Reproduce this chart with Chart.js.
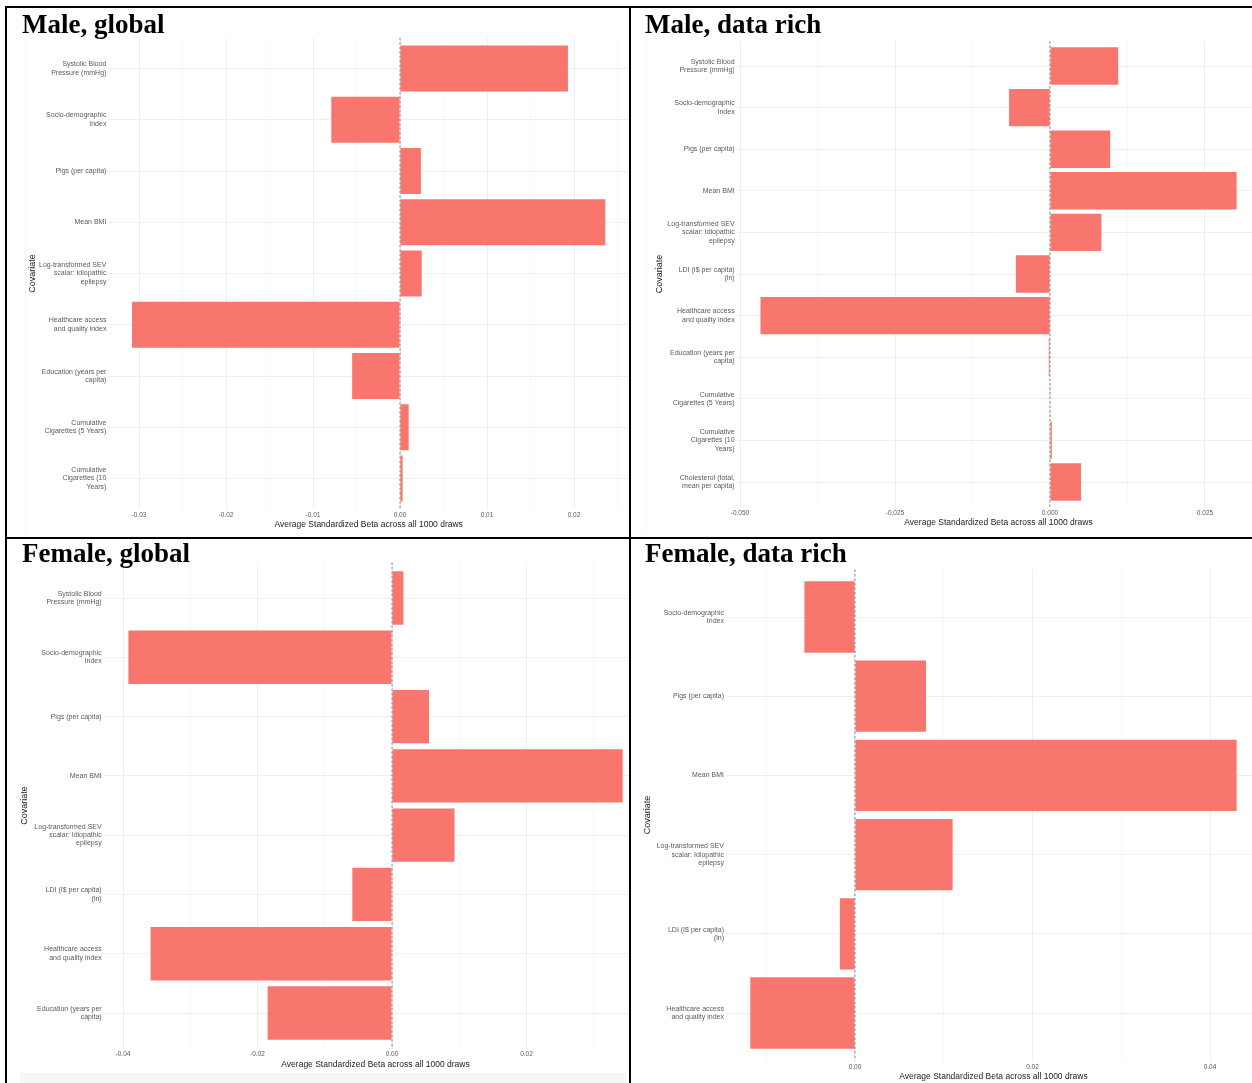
<!DOCTYPE html>
<html>
<head>
<meta charset="utf-8">
<script src="https://cdn.jsdelivr.net/npm/chart.js@4.4.1/dist/chart.umd.min.js"></script>
<style>
  html, body { margin: 0; padding: 0; background: #fff; }
  #sheet { position: relative; width: 1252px; height: 1083px; overflow: hidden; background: #fff; }
  .rule { position: absolute; background: #000; z-index: 3; }
  .clip { position: absolute; overflow: hidden; }
  .clip canvas { position: absolute; left: 0; top: 0; }
  .panel-title { position: absolute; font: bold 27px 'Liberation Serif', 'Times New Roman', serif; line-height: 27px; color: #000; white-space: nowrap; z-index: 2; }
  .faint { position: absolute; background: #f2f2f2; }
</style>
</head>
<body>
<div id="sheet"></div>
<script>
// === Data ===
const SBP = ['Systolic Blood', 'Pressure (mmHg)'];
const SDI = ['Socio-demographic', 'Index'];
const PIGS = 'Pigs (per capita)';
const BMI = 'Mean BMI';
const SEV = ['Log-transformed SEV', 'scalar: Idiopathic', 'epilepsy'];
const LDI = ['LDI (I$ per capita)', '(ln)'];
const HAQ = ['Healthcare access', 'and quality index'];
const EDU = ['Education (years per', 'capita)'];
const CIG5 = ['Cumulative', 'Cigarettes (5 Years)'];
const CIG10 = ['Cumulative', 'Cigarettes (10', 'Years)'];
const CHOL = ['Cholesterol (total,', 'mean per capita)'];

const maleGlobalCovariates = [SBP, SDI, PIGS, BMI, SEV, HAQ, EDU, CIG5, CIG10];
const maleGlobalBeta = [0.0193, -0.0079, 0.0024, 0.0236, 0.0025, -0.0308, -0.0055, 0.0010, 0.0003];

const maleRichCovariates = [SBP, SDI, PIGS, BMI, SEV, LDI, HAQ, EDU, CIG5, CIG10, CHOL];
const maleRichBeta = [0.0110, -0.0066, 0.0097, 0.0301, 0.0083, -0.0055, -0.0467, -0.0002, 0.0001, 0.0003, 0.0050];

const femaleGlobalCovariates = [SBP, SDI, PIGS, BMI, SEV, LDI, HAQ, EDU];
const femaleGlobalBeta = [0.0017, -0.0392, 0.0055, 0.0343, 0.0093, -0.0059, -0.0359, -0.0185];

const femaleRichCovariates = [SDI, PIGS, BMI, SEV, LDI, HAQ];
const femaleRichBeta = [-0.0057, 0.0080, 0.0430, 0.0110, -0.0017, -0.0118];

const X_TITLE = 'Average Standardized Beta across all 1000 draws';
const Y_TITLE = 'Covariate';
const BAR_COLOR = '#F8766D';
const GRID_COLOR = '#eeeeee';
const FONT = "'Liberation Sans', Arial, sans-serif";

// === Panel layout (page pixels) ===
const panels = [
  { title: 'Male, global', titleX: 22, baseline: 32,
    clip: { x: 8, y: 9, w: 621, h: 528 },
    labels: maleGlobalCovariates, values: maleGlobalBeta,
    zeroX: 400, ppu: 8700, firstY: 68.5, lastY: 478.5,
    minor: 0.005, major: 0.01, decimals: 2,
    covX: 32.5, tickPad: 2.4, xTitleY: 525 },
  { title: 'Male, data rich', titleX: 645, baseline: 32,
    clip: { x: 631, y: 9, w: 621, h: 528 },
    labels: maleRichCovariates, values: maleRichBeta,
    zeroX: 1050, ppu: 6200, firstY: 66, lastY: 482,
    minor: 0.0125, major: 0.025, decimals: 3,
    covX: 660, tickPad: 2.4, xTitleY: 523 },
  { title: 'Female, global', titleX: 22, baseline: 561,
    clip: { x: 7, y: 539, w: 622, h: 544 },
    labels: femaleGlobalCovariates, values: femaleGlobalBeta,
    zeroX: 392, ppu: 6725, firstY: 598, lastY: 1013,
    minor: 0.01, major: 0.02, decimals: 2,
    covX: 25, tickPad: 2, xTitleY: 1065 },
  { title: 'Female, data rich', titleX: 645, baseline: 561,
    clip: { x: 631, y: 539, w: 621, h: 544 },
    labels: femaleRichCovariates, values: femaleRichBeta,
    zeroX: 855, ppu: 8875, firstY: 617, lastY: 1013,
    minor: 0.01, major: 0.02, decimals: 2,
    covX: 648, tickPad: 2.6, xTitleY: 1076.5 }
];

// dashed reference line at beta = 0
const zeroLine = {
  id: 'zeroLine',
  afterDatasetsDraw(chart) {
    const { ctx, chartArea, scales } = chart;
    const x = scales.x.getPixelForValue(0);
    ctx.save();
    ctx.strokeStyle = '#707070';
    ctx.lineWidth = 0.8;
    ctx.setLineDash([2.5, 2]);
    ctx.beginPath();
    ctx.moveTo(x, chartArea.top);
    ctx.lineTo(x, chartArea.bottom);
    ctx.stroke();
    ctx.restore();
  }
};

// ggplot-style 5% expansion of the continuous axis
function expandRange(values) {
  const lo = Math.min(0, ...values);
  const hi = Math.max(0, ...values);
  const e = (hi - lo) * 0.05;
  return [lo - e, hi + e];
}

function isMajor(v, step) {
  const r = v / step;
  return Math.abs(r - Math.round(r)) < 1e-6;
}

const sheet = document.getElementById('sheet');

// === Frame lines & scraps of the original screenshots ===
sheet.innerHTML = `
  <div class="rule" style="left:5px;top:6px;width:1247px;height:2px;"></div>
  <div class="rule" style="left:5px;top:6px;width:2px;height:1077px;"></div>
  <div class="rule" style="left:629px;top:6px;width:2px;height:1077px;"></div>
  <div class="rule" style="left:5px;top:537px;width:1247px;height:2px;"></div>
  <div class="faint" style="left:25px;top:38px;width:1px;height:495px;"></div>
  <div class="faint" style="left:646px;top:40px;width:1px;height:490px;"></div>
  <div class="faint" style="left:20px;top:1073px;width:606px;height:10px;background:#f6f6f6;"></div>
`;

panels.forEach(p => {
  const n = p.labels.length;
  const [xMin, xMax] = expandRange(p.values);
  const left = p.zeroX + xMin * p.ppu;
  const right = p.zeroX + xMax * p.ppu;
  const band = (p.lastY - p.firstY) / (n - 1);
  const top = p.firstY - 0.6 * band;
  const bottom = p.lastY + 0.6 * band;

  const cx = p.clip.x, cy = p.clip.y;
  const cw = Math.ceil(right) + 2 - cx;
  const ch = p.clip.h;

  const wrap = document.createElement('div');
  wrap.className = 'clip';
  wrap.style.cssText = `left:${cx}px;top:${cy}px;width:${p.clip.w}px;height:${ch}px;`;
  const canvas = document.createElement('canvas');
  canvas.width = cw;
  canvas.height = ch;
  canvas.style.width = cw + 'px';
  canvas.style.height = ch + 'px';
  wrap.appendChild(canvas);
  sheet.appendChild(wrap);

  const title = document.createElement('div');
  title.className = 'panel-title';
  title.textContent = p.title;
  title.style.left = p.titleX + 'px';
  title.style.top = (p.baseline - 20.8) + 'px';
  sheet.appendChild(title);

  const yAxisWidth = left - cx;
  const xAxisHeight = (cy + ch) - bottom;
  const yTitleLH = 9 * 1.2;
  const xTitleLH = 8.5 * 1.2;

  new Chart(canvas, {
    type: 'bar',
    data: {
      datasets: [{
        data: p.values.map((v, i) => ({ x: v, y: i })),
        backgroundColor: BAR_COLOR,
        borderWidth: 0,
        barPercentage: 0.9,
        categoryPercentage: 1
      }]
    },
    options: {
      indexAxis: 'y',
      responsive: false,
      animation: false,
      layout: { padding: { top: top - cy, right: (cx + cw) - right, left: 0, bottom: 0 } },
      plugins: { legend: { display: false }, tooltip: { enabled: false } },
      scales: {
        x: {
          type: 'linear',
          min: xMin,
          max: xMax,
          border: { display: false },
          grid: {
            color: GRID_COLOR,
            lineWidth: c => (c.tick && isMajor(c.tick.value, p.major) ? 1 : 0.5),
            drawTicks: false
          },
          ticks: {
            stepSize: p.minor,
            includeBounds: false,
            maxTicksLimit: 100,
            autoSkip: false,
            maxRotation: 0,
            padding: p.tickPad,
            color: '#5a5a5a',
            font: { family: FONT, size: 6.5 },
            callback: v => (isMajor(v, p.major) ? (Math.abs(v) < 1e-9 ? 0 : v).toFixed(p.decimals) : '')
          },
          title: {
            display: true,
            text: X_TITLE,
            color: '#222',
            font: { family: FONT, size: 8.5 },
            padding: { top: 0, bottom: (cy + ch) - p.xTitleY - xTitleLH / 2 }
          },
          afterFit: s => { s.height = xAxisHeight; }
        },
        y: {
          type: 'linear',
          min: -0.6,
          max: n - 0.4,
          reverse: true,
          offset: false,
          border: { display: false },
          grid: { color: GRID_COLOR, lineWidth: 1, drawTicks: false, offset: false },
          ticks: {
            stepSize: 1,
            includeBounds: false,
            maxTicksLimit: 100,
            autoSkip: false,
            padding: 2,
            color: '#5a5a5a',
            font: { family: FONT, size: 7, lineHeight: 1.2 },
            callback: v => p.labels[Math.round(v)] ?? ''
          },
          title: {
            display: true,
            text: Y_TITLE,
            color: '#1a1a1a',
            font: { family: FONT, size: 9 },
            padding: { top: p.covX - cx - yTitleLH / 2, bottom: 0 }
          },
          afterFit: s => { s.width = yAxisWidth; }
        }
      }
    },
    plugins: [zeroLine]
  });
});
</script>
</body>
</html>
